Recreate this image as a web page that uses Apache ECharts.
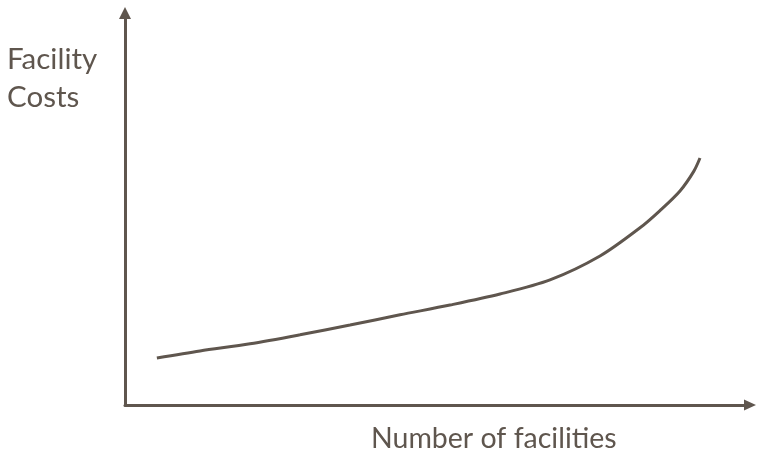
<!DOCTYPE html>
<html>
<head>
<meta charset="utf-8">
<script src="https://cdn.jsdelivr.net/npm/echarts@6/dist/echarts.min.js"></script>
<style>
  html, body { margin: 0; padding: 0; background: #fff; }
  #chart { width: 759px; height: 456px; }
</style>
</head>
<body>
<div id="chart"></div>
<script>
// number of facilities (relative units) vs facility costs (relative units)
const facilities = [5.1, 12.0, 20.0, 28.0, 36.0, 44.0, 52.0, 60.0, 68.0, 76.0, 82.4, 85.6, 88.8, 91.0, 92.0]
const costs = [12.0, 13.8, 15.6, 17.9, 20.4, 23.0, 25.5, 28.3, 31.9, 38.0, 45.2, 49.6, 54.6, 59.6, 63.0]
const yLabel = ['Facility', 'Costs']
const xLabel = 'Number of facilities'

const ink = '#5f564e'
const font = 'Lato, "Open Sans", sans-serif'

const chart = echarts.init(document.getElementById('chart'))
chart.setOption({
  animation: false,
  grid: { left: 125, right: 9, top: 13, bottom: 51 },
  xAxis: {
    type: 'value',
    min: 0,
    max: 100,
    axisLine: {
      show: true,
      symbol: ['none', 'triangle'],
      symbolSize: [11, 12],
      lineStyle: { color: ink, width: 3 },
    },
    axisTick: { show: false },
    axisLabel: { show: false },
    splitLine: { show: false },
  },
  yAxis: {
    type: 'value',
    min: 0,
    max: 100,
    axisLine: {
      show: true,
      symbol: ['none', 'triangle'],
      symbolSize: [12, 12],
      lineStyle: { color: ink, width: 3 },
    },
    axisTick: { show: false },
    axisLabel: { show: false },
    splitLine: { show: false },
  },
  graphic: [
    {
      type: 'text',
      left: 7,
      top: 40,
      style: {
        text: yLabel.join('\n'),
        fill: ink,
        font: '29.5px ' + font,
        lineHeight: 38,
      },
    },
    {
      type: 'text',
      left: 371,
      top: 424,
      style: { text: xLabel, fill: ink, font: '28.5px ' + font },
    },
  ],
  series: [
    {
      type: 'line',
      data: facilities.map((x, i) => [x, costs[i]]),
      smooth: 0.3,
      symbol: 'none',
      lineStyle: { color: ink, width: 3 },
    },
  ],
})
</script>
</body>
</html>
